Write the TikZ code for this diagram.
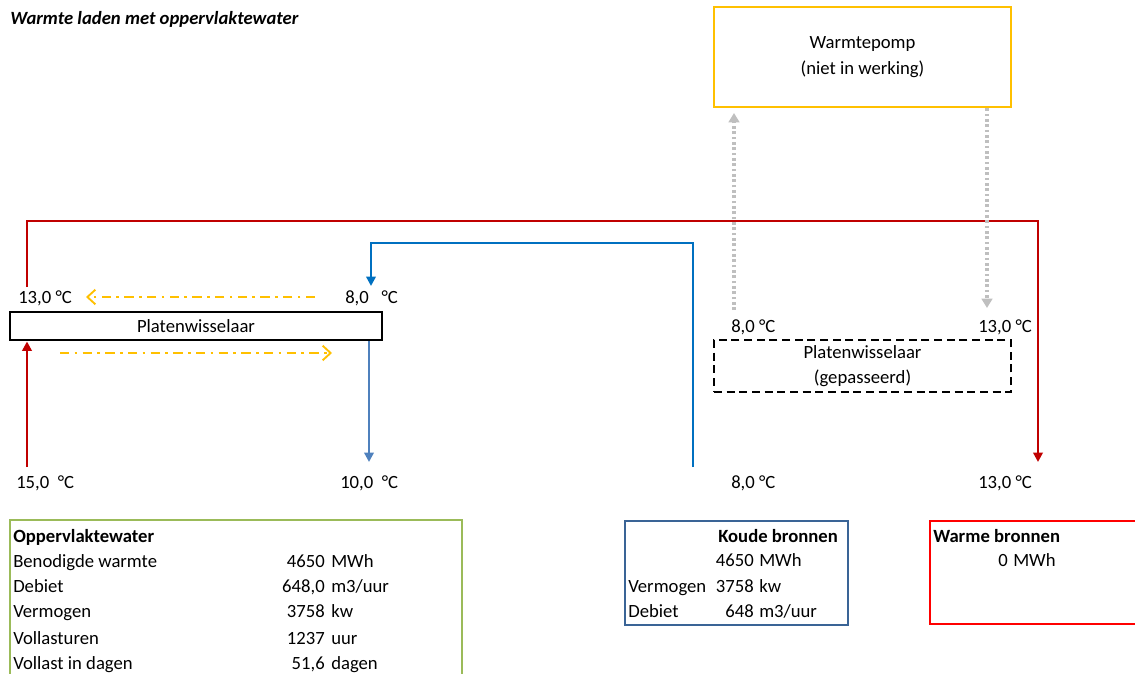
\documentclass[tikz,border=0pt]{standalone}
\usepackage{fontspec}
\setmainfont{Carlito}
\usetikzlibrary{arrows.meta}

\definecolor{pipered}{HTML}{C00000}
\definecolor{pipeblue}{HTML}{0070C0}
\definecolor{retblue}{HTML}{4F81BD}
\definecolor{hpyellow}{HTML}{FFC000}
\definecolor{srfgreen}{HTML}{9BBB59}
\definecolor{coldblue}{HTML}{3A6496}
\definecolor{warmred}{HTML}{FF0000}
\definecolor{offgray}{HTML}{BFBFBF}

\tikzset{
  pipe/.style={line width=2pt},
  pipetip/.style={-{Triangle[width=7pt,length=7pt]}},
  heatflow/.style={hpyellow, line width=1.4pt, dash pattern=on 7pt off 4pt on 2pt off 4pt,
    -{Straight Barb[width=11pt,length=6pt]}},
  offline/.style={offgray, line width=2.4pt, dash pattern=on 2pt off 2pt,
    -{Triangle[width=8pt,length=7pt]}},
  box/.style={line width=2.2pt, inner sep=0pt, align=center},
  lbl/.style={anchor=base west, inner sep=0pt},
  val/.style={anchor=base east, inner sep=0pt},
}

\begin{document}
\begin{tikzpicture}[x=0.75pt, y=-0.75pt, font=\fontsize{14}{17}\selectfont]
\useasboundingbox (0,0) rectangle (1135,674);

\node[lbl, font=\fontsize{14}{17}\selectfont\bfseries\itshape] (title) at (10,25) {Warmte laden met oppervlaktewater};

% warmtepomp en platenwisselaars
\node[box, draw=hpyellow, minimum width=297*0.75pt, minimum height=100*0.75pt] (hp) at (862.5,57) {Warmtepomp\\[2pt](niet in werking)};
\node[box, draw=black, minimum width=372*0.75pt, minimum height=28*0.75pt] (pwl) at (196,326) {Platenwisselaar};
\node[box, draw=black, dash pattern=on 6pt off 3.5pt, minimum width=297*0.75pt, minimum height=52*0.75pt] (pwr) at (862.5,366) {Platenwisselaar\\[2pt](gepasseerd)};

% temperaturen
\node[lbl] (tA) at (18,303) {13,0 °C};
\node[lbl] (tB) at (345,303) {8,0 \ \ °C};
\node[lbl] (tC) at (16,488) {15,0 \ °C};
\node[lbl] (tD) at (340,488) {10,0 \ °C};
\node[lbl] (tE) at (731,332) {8,0 °C};
\node[lbl] (tF) at (978,332) {13,0 °C};
\node[lbl] (tG) at (731,488) {8,0 °C};
\node[lbl] (tH) at (978,488) {13,0 °C};

% leidingen
\coordinate (rA) at (27,287);
\coordinate (rTop) at (1038,221);
\coordinate (rB) at (1038,462);
\coordinate (rIn) at (27,467);
\coordinate (bIn) at (693,467);
\coordinate (bTop) at (371,243);
\coordinate (bB) at (371,286);
\coordinate (bOut) at (369,462);
\draw[pipe, pipered, pipetip] (rA) |- (rTop) -- (rB);
\draw[pipe, pipered, pipetip] (rIn) -- (rIn |- pwl.south);
\draw[pipe, pipeblue, pipetip] (bIn) |- (bTop) -- (bB);
\draw[pipe, retblue, pipetip] (bOut |- pwl.south) -- (bOut);

% warmteoverdracht
\coordinate (hA) at (315,297);
\coordinate (hB) at (86,297);
\coordinate (hC) at (60,353);
\coordinate (hD) at (332,353);
\draw[heatflow] (hA) -- (hB);
\draw[heatflow] (hC) -- (hD);

% warmtepomp niet in bedrijf
\coordinate (gA) at (734,310);
\coordinate (gB) at (734,113);
\coordinate (gC) at (987,308);
\coordinate (gD) at (hp.south -| gC);
\draw[offline] (gA) -- (gB);
\draw[offline] (gD) -- (gC);

% oppervlaktewater
\draw[srfgreen, line width=2.2pt] (10,680) -- (10,520) -- (462,520) -- (462,680);
\node[lbl, font=\fontsize{14}{17}\selectfont\bfseries] (ow) at (13,542) {Oppervlaktewater};
\node[lbl] (ow1) at (13,567) {Benodigde warmte};
\node[val] (ow1v) at (325,567) {4650};
\node[lbl] (ow1u) at (331,567) {MWh};
\node[lbl] (ow2) at (13,592) {Debiet};
\node[val] (ow2v) at (325,592) {648,0};
\node[lbl] (ow2u) at (331,592) {m3/uur};
\node[lbl] (ow3) at (13,617) {Vermogen};
\node[val] (ow3v) at (325,617) {3758};
\node[lbl] (ow3u) at (331,617) {kw};
\node[lbl] (ow4) at (13,644) {Vollasturen};
\node[val] (ow4v) at (325,644) {1237};
\node[lbl] (ow4u) at (331,644) {uur};
\node[lbl] (ow5) at (13,669) {Vollast in dagen};
\node[val] (ow5v) at (325,669) {51,6};
\node[lbl] (ow5u) at (331,669) {dagen};

% koude bronnen
\draw[coldblue, line width=2.2pt] (625,521) rectangle (848,625);
\node[lbl, font=\fontsize{14}{17}\selectfont\bfseries] (kb) at (718,542) {Koude bronnen};
\node[val] (kb1v) at (754,566) {4650};
\node[lbl] (kb1u) at (759,566) {MWh};
\node[lbl] (kb2) at (628,592) {Vermogen};
\node[val] (kb2v) at (754,592) {3758};
\node[lbl] (kb2u) at (759,592) {kw};
\node[lbl] (kb3) at (628,617) {Debiet};
\node[val] (kb3v) at (754,617) {648};
\node[lbl] (kb3u) at (759,617) {m3/uur};

% warme bronnen
\draw[warmred, line width=2.2pt] (1140,521) -- (930,521) -- (930,624) -- (1140,624);
\node[lbl, font=\fontsize{14}{17}\selectfont\bfseries] (wb) at (933,542) {Warme bronnen};
\node[val] (wb1v) at (1008,566) {0};
\node[lbl] (wb1u) at (1013,566) {MWh};
\end{tikzpicture}
\end{document}
